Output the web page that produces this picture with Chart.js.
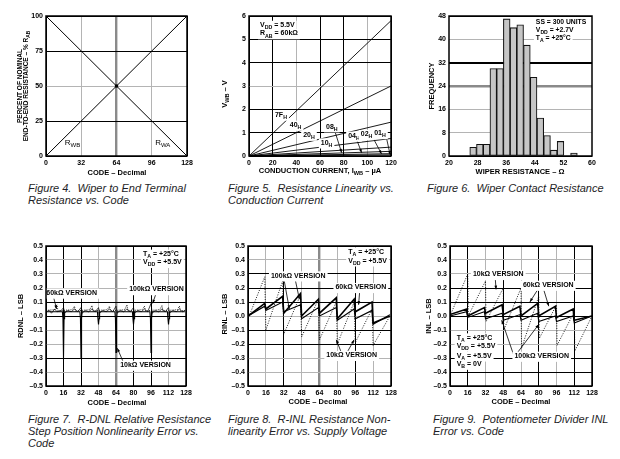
<!DOCTYPE html>
<html><head><meta charset="utf-8">
<script src="https://cdn.jsdelivr.net/npm/chart.js@4.4.1/dist/chart.umd.min.js"></script>
<style>
html,body{margin:0;padding:0;background:#fff}
body{width:620px;height:459px;position:relative;overflow:hidden;font-family:"Liberation Sans",Arial,Helvetica,sans-serif}
canvas{position:absolute}
.cap{position:absolute;font-style:italic;font-size:11px;line-height:12px;color:#1e1e26;white-space:nowrap}
</style></head><body>
<canvas id="c4" width="205" height="180" style="left:0;top:0"></canvas>
<canvas id="c5" width="205" height="180" style="left:205px;top:0"></canvas>
<canvas id="c6" width="210" height="180" style="left:410px;top:0"></canvas>
<canvas id="c7" width="205" height="180" style="left:0;top:230px"></canvas>
<canvas id="c8" width="205" height="180" style="left:205px;top:230px"></canvas>
<canvas id="c9" width="210" height="180" style="left:410px;top:230px"></canvas>
<div class="cap" style="left:28px;top:182px">Figure 4.&nbsp; Wiper to End Terminal<br>Resistance vs. Code</div>
<div class="cap" style="left:228px;top:182px">Figure 5.&nbsp; Resistance Linearity vs.<br>Conduction Current</div>
<div class="cap" style="left:427px;top:182px">Figure 6.&nbsp; Wiper Contact Resistance</div>
<div class="cap" style="left:28px;top:413px">Figure 7.&nbsp; R-DNL Relative Resistance<br>Step Position Nonlinearity Error vs.<br>Code</div>
<div class="cap" style="left:228px;top:413px">Figure 8.&nbsp; R-INL Resistance Non-<br>linearity Error vs. Supply Voltage</div>
<div class="cap" style="left:433px;top:413px">Figure 9.&nbsp; Potentiometer Divider INL<br>Error vs. Code</div>
<script>
// ---------------- DATA ----------------
// Figure 4
const fig4Code = [0, 128];
const fig4RWB = [0, 100];
const fig4RWA = [100, 0];
// Figure 5
const fig5Current = [0, 120];
const fig5Codes = ['7F', '40', '20', '10', '08', '04', '02', '01'];
const fig5VoltAt120 = [5.8, 3.0, 1.45, 0.75, 0.38, 0.2, 0.1, 0.05];
// Figure 6
const fig6Resistance = [26.75, 28.63, 30.51, 32.39, 34.27, 36.15, 38.03, 39.91, 41.79, 43.67, 45.55, 47.43, 49.31, 51.19, 53.07, 54.95];
const fig6Frequency = [3, 4, 4, 30, 30, 47, 44, 45, 38, 27, 13, 7, 2, 5, 0, 1];
// Figure 7 (code, LSB)
const fig7R10k = [[0,0.03],[15,0.03],[15.5,-0.02],[16,-0.3],[16.5,-0.02],[17,0.03],[31,0.03],[31.5,-0.02],[32,-0.3],[32.5,-0.02],[33,0.03],[47,0.03],[47.5,-0.02],[48,-0.06],[48.5,-0.02],[49,0.03],[63,0.03],[63.5,-0.02],[64,-0.26],[64.5,-0.02],[65,0.03],[79,0.03],[79.5,-0.02],[80,-0.06],[80.5,-0.02],[81,0.03],[95,0.03],[95.5,-0.02],[96,-0.26],[96.5,-0.02],[97,0.03],[111,0.03],[111.5,-0.02],[112,-0.06],[112.5,-0.02],[113,0.03],[127,0.03]];
const fig7R60k = [[0,0.04],[8,0.045],[10,0.08],[11,0.035],[16,0.04],[24,0.045],[26,0.07],[27,0.035],[32,0.04],[40,0.045],[42,0.075],[43,0.035],[48,0.04],[56,0.045],[58,0.07],[59,0.035],[64,0.04],[72,0.045],[74,0.08],[75,0.035],[80,0.04],[88,0.045],[90,0.07],[91,0.035],[96,0.04],[104,0.045],[106,0.075],[107,0.035],[112,0.04],[120,0.045],[122,0.07],[123,0.035],[127,0.04]];
const fig7R100k = [[0,0.03],[3,0.04],[5,0.02],[8,0.05],[10,0.03],[14,0.04],[16,0.06],[17,0.02],[20,0.04],[23,0.03],[26,0.05],[29,0.03],[32,0.06],[33,0.02],[36,0.04],[39,0.03],[42,0.05],[45,0.03],[48,0.06],[49,0.02],[52,0.04],[55,0.03],[58,0.05],[61,0.03],[64,0.07],[65,0.02],[68,0.04],[71,0.03],[74,0.05],[77,0.03],[80,0.06],[81,0.02],[84,0.04],[87,0.03],[90,0.05],[93,0.03],[96,0.09],[97,0.02],[100,0.04],[103,0.03],[106,0.05],[109,0.03],[112,0.06],[113,0.02],[116,0.04],[119,0.03],[122,0.05],[125,0.03],[127,0.04]];
// Figure 8
const fig8R10k = [[0,-0.02],[15,0.28],[16,-0.1],[31,0.25],[32,-0.13],[47,0.15],[48,-0.15],[63,0.12],[64,-0.17],[79,0.1],[80,-0.2],[95,0.1],[96,-0.19],[111,0.05],[112,-0.21],[127,0.0]];
const fig8R60k = [[0,0.0],[15,0.09],[16,0.05],[31,0.14],[32,0.02],[47,0.16],[48,0.0],[63,0.12],[64,0.02],[79,0.13],[80,-0.02],[95,0.12],[96,0.03],[111,0.1],[112,-0.05],[127,0.0]];
const fig8R100k = [[0,0.0],[15,0.07],[16,0.04],[31,0.1],[32,0.03],[47,0.08],[48,-0.02],[63,0.06],[64,0.0],[79,0.06],[80,-0.03],[95,0.05],[96,-0.02],[111,0.04],[112,-0.06],[127,0.01]];
// Figure 9
const fig9R10k = [[0,0.0],[16,0.3],[16.5,0.0],[32,0.25],[32.5,-0.04],[48,0.2],[48.5,-0.1],[64,0.2],[64.5,-0.23],[80,0.14],[80.5,-0.16],[96,0.08],[96.5,-0.21],[112,0.03],[112.5,-0.25],[128,0.0]];
const fig9R60k = [[0,0.01],[15,0.05],[16,0.0],[31,0.06],[32,0.02],[47,0.08],[48,0.01],[63,0.07],[64,0.0],[79,0.09],[80,0.0],[95,0.07],[96,-0.01],[111,0.05],[112,-0.03],[128,0.0]];
const fig9R100k = [[0,0.0],[15,0.03],[16,-0.01],[31,0.03],[32,-0.02],[47,0.02],[48,-0.03],[63,0.01],[64,-0.03],[79,0.02],[80,-0.04],[95,0.0],[96,-0.04],[111,0.0],[112,-0.05],[128,0.0]];

// ---------------- HELPERS ----------------
const FAM = '"Liberation Sans", Arial, Helvetica, sans-serif';
Chart.defaults.font.family = FAM;
Chart.defaults.color = '#000';
Chart.defaults.animation = false;

const STY = {k:['#000',1], g:['#b4b4b4',1], G:['#8a8a8a',2.4], K:['#000',2], n:['rgba(0,0,0,0)',0]};
function grid(str){
  return {color:c=>STY[str[c.index]||'n'][0], lineWidth:c=>STY[str[c.index]||'n'][1], drawTicks:false};
}
function lin(min,max,step,gridStr,fmt,fit,axis){
  return {type:'linear',min,max,
    ticks:{stepSize:step,autoSkip:false,maxRotation:0,padding:3,font:{size:7,weight:'bold'},color:'#000',callback:fmt||(v=>String(v))},
    grid:grid(gridStr), border:{display:false},
    afterFit: axis==='x' ? (s=>{s.height=fit;}) : (s=>{s.width=fit;})};
}
const fmt1 = v => (v < -1e-9 ? '\u2013' + Math.abs(v).toFixed(1) : Math.abs(v).toFixed(1));
const pts = arr => arr.map(p=>({x:p[0],y:p[1]}));
const pairs = (xs,ys) => xs.map((x,i)=>({x,y:ys[i]}));

function richParts(s){
  const out=[]; const re=/_\{([^}]*)\}/g; let last=0,m;
  while((m=re.exec(s))){ if(m.index>last) out.push({t:s.slice(last,m.index),sub:false}); out.push({t:m[1],sub:true}); last=re.lastIndex; }
  if(last<s.length) out.push({t:s.slice(last),sub:false});
  return out;
}
function setF(ctx,size,weight){ ctx.font = weight+' '+size+'px '+FAM; }
function drawRich(ctx,s,x,y,size,align,weight,bg){
  const parts=richParts(s); let w=0;
  parts.forEach(p=>{ setF(ctx,p.sub?size*0.75:size,weight); w+=ctx.measureText(p.t).width; });
  let sx = align==='center' ? x-w/2 : align==='right' ? x-w : x;
  if(bg){ ctx.fillStyle='#fff'; ctx.fillRect(sx-2,y-size*0.62,w+4,size*1.45); }
  ctx.fillStyle='#000'; ctx.textBaseline='middle'; ctx.textAlign='left';
  parts.forEach(p=>{ const fs=p.sub?size*0.75:size; setF(ctx,fs,weight); ctx.fillText(p.t,sx,y+(p.sub?size*0.38:0)); sx+=ctx.measureText(p.t).width; });
}
const deco = {
  id:'deco',
  afterDatasetsDraw(chart){
    const o=chart.options.plugins.deco||{}; const ctx=chart.ctx;
    const xs=chart.scales.x, ys=chart.scales.y;
    const X=v=>xs.getPixelForValue(v), Y=v=>ys.getPixelForValue(v);
    ctx.save();
    if(o.dot){ ctx.fillStyle='#000'; ctx.beginPath(); ctx.arc(X(o.dot[0]),Y(o.dot[1]),1.8,0,Math.PI*2); ctx.fill(); }
    (o.leaders||[]).forEach(l=>{
      const x1=X(l[0]),y1=Y(l[1]),x2=X(l[2]),y2=Y(l[3]);
      ctx.strokeStyle='#000'; ctx.lineWidth=0.8; ctx.beginPath(); ctx.moveTo(x1,y1); ctx.lineTo(x2,y2); ctx.stroke();
      const a=Math.atan2(y2-y1,x2-x1), L=4;
      ctx.fillStyle='#000'; ctx.beginPath(); ctx.moveTo(x2,y2);
      ctx.lineTo(x2-L*Math.cos(a-0.35),y2-L*Math.sin(a-0.35));
      ctx.lineTo(x2-L*Math.cos(a+0.35),y2-L*Math.sin(a+0.35)); ctx.closePath(); ctx.fill();
    });
    (o.labels||[]).forEach(l=>drawRich(ctx,l.t,X(l.x),Y(l.y),l.size||7,l.align||'center',l.w||'bold',l.bg!==false));
    ctx.restore();
  },
  afterDraw(chart){
    const o=chart.options.plugins.deco||{}; const ctx=chart.ctx; const a=chart.chartArea;
    ctx.save();
    ctx.strokeStyle='#000'; ctx.lineWidth=1.5; ctx.strokeRect(a.left,a.top,a.right-a.left,a.bottom-a.top);
    if(o.xTitle) drawRich(ctx,o.xTitle.t,o.xTitle.x,o.xTitle.y,o.xTitle.size||7.5,'center','bold',false);
    (o.yTitle||[]).forEach(t=>{
      ctx.save(); ctx.translate(t.x,t.y); ctx.rotate(-Math.PI/2);
      drawRich(ctx,t.t,0,0,t.size||7.5,'center','bold',false); ctx.restore();
    });
    ctx.restore();
  }
};
Chart.register(deco);
function baseOpts(padRight,scales,decoCfg){
  return {responsive:false,maintainAspectRatio:false,animation:false,
    layout:{padding:{top:16,right:padRight,left:0,bottom:0}},
    scales, elements:{point:{radius:0},line:{tension:0}},
    plugins:{legend:{display:false},tooltip:{enabled:false},deco:decoCfg}};
}
const ln = (data,w,dash) => ({data,borderColor:'#000',borderWidth:w,borderDash:dash||[],pointRadius:0,fill:false});

// ---------------- FIGURE 4 ----------------
new Chart(document.getElementById('c4'),{type:'line',
  data:{datasets:[ln(pairs(fig4Code,fig4RWB),1), ln(pairs(fig4Code,fig4RWA),1)]},
  options:baseOpts(18,{x:lin(0,128,32,'kgGgk',null,24,'x'), y:lin(0,100,25,'kkgkk',null,46,'y')},
    {xTitle:{t:'CODE \u2013 Decimal',x:117,y:172.5},
     yTitle:[{t:'PERCENT OF NOMINAL',x:20.5,y:86,size:6.5},{t:'END-TO-END RESISTANCE \u2013 % R_{AB}',x:26.5,y:86,size:6.5}],
     labels:[{t:'R_{WB}',x:24,y:9.5,bg:false,size:8,w:'normal'},{t:'R_{WA}',x:106,y:9.5,bg:false,size:8,w:'normal'}],
     dot:[64,50]})});

// ---------------- FIGURE 5 ----------------
new Chart(document.getElementById('c5'),{type:'line',
  data:{datasets:fig5VoltAt120.map(v=>ln(pairs(fig5Current,[0,v]),0.9))},
  options:baseOpts(19,{x:lin(0,120,20,'kkgkkgk',null,24,'x'), y:lin(0,6,1,'kkkgkkk',null,44,'y')},
    {xTitle:{t:'CONDUCTION CURRENT, I_{WB} \u2013 \u00b5A',x:115,y:170.5},
     yTitle:[{t:'V_{WB} \u2013 V',x:20,y:94}],
     leaders:[[72.7,1.04,78.3,0.14],[91,0.7,95.2,0.14],[105.6,0.7,112,0.09],[116.4,0.72,119.3,0.05]],
     labels:[{t:'V_{DD} = 5.5V',x:9.3,y:5.61,align:'left'},{t:'R_{AB} = 60k\u03a9',x:9.3,y:5.25,align:'left'},
       {t:fig5Codes[0]+'_{H}',x:27,y:1.76},{t:fig5Codes[1]+'_{H}',x:39.4,y:1.33},{t:fig5Codes[2]+'_{H}',x:50.7,y:0.9},
       {t:fig5Codes[3]+'_{H}',x:65.6,y:0.57},{t:fig5Codes[4]+'_{H}',x:70,y:1.26},{t:fig5Codes[5]+'_{H}',x:88.7,y:0.86},
       {t:fig5Codes[6]+'_{H}',x:99.4,y:0.93},{t:fig5Codes[7]+'_{H}',x:110.7,y:0.97}]})});

// ---------------- FIGURE 6 ----------------
const fig6Data = fig6Resistance.map((x,i)=>({x,y:fig6Frequency[i]})).filter(d=>d.y>0);
new Chart(document.getElementById('c6'),{type:'bar',
  data:{datasets:[{data:fig6Data,backgroundColor:'#c6c6c6',borderColor:'#111',borderWidth:1.1,barThickness:6.7,borderSkipped:false}]},
  options:baseOpts(28,{x:Object.assign(lin(20,60,8,'nnnnnn',null,24,'x'),{offset:false}), y:lin(0,48,8,'kggGKgk',null,39,'y')},
    {xTitle:{t:'WIPER RESISTANCE \u2013 \u03a9',x:110,y:172},
     yTitle:[{t:'FREQUENCY',x:22,y:86}],
     labels:[{t:'SS = 300 UNITS',x:44.3,y:45.9,align:'left',size:6.8},{t:'V_{DD} = +2.7V',x:44.3,y:43.2,align:'left',size:6.8},{t:'T_{A} = +25\u00b0C',x:44.3,y:40.4,align:'left',size:6.8}]})});

// ---------------- FIGURE 7 ----------------
new Chart(document.getElementById('c7'),{type:'line',
  data:{datasets:[ln(pts(fig7R60k),0.9,[1,1.2]), ln(pts(fig7R100k),0.7), ln(pts(fig7R10k),1.1)]},
  options:baseOpts(19,{x:lin(0,128,16,'kkkgGkkgk',null,24,'x'), y:lin(-0.5,0.5,0.1,'kgkggkkgggk',fmt1,46,'y')},
    {xTitle:{t:'CODE \u2013 Decimal',x:117,y:172.5},
     yTitle:[{t:'RDNL \u2013 LSB',x:21,y:86}],
     leaders:[[6.7,0.14,9.7,0.05],[101,0.17,97.5,0.09],[70.7,-0.33,65.2,-0.23]],
     labels:[{t:'T_{A} = +25\u00b0C',x:88.7,y:0.443,align:'left'},{t:'V_{DD} = +5.5V',x:88.7,y:0.384,align:'left'},
       {t:'60k\u03a9 VERSION',x:23.5,y:0.165},{t:'100k\u03a9 VERSION',x:101,y:0.19},{t:'10k\u03a9 VERSION',x:91,y:-0.35}]})});

// ---------------- FIGURE 8 ----------------
new Chart(document.getElementById('c8'),{type:'line',
  data:{datasets:[ln(pts(fig8R10k),0.9,[1,1.5]), ln(pts(fig8R100k),1.1), ln(pts(fig8R60k),1.6)]},
  options:baseOpts(19,{x:lin(0,128,16,'kgkgGgkgk',null,24,'x'), y:lin(-0.5,0.5,0.1,'kggkkgkkkgk',fmt1,43,'y')},
    {xTitle:{t:'CODE \u2013 Decimal',x:113,y:171.5},
     yTitle:[{t:'RINL \u2013 LSB',x:20,y:84}],
     leaders:[[32,0.27,37,0.05],[42,0.27,46,0.12],[100,0.18,99,0.08],[84,-0.27,79,-0.17],[88,-0.27,95,-0.17]],
     labels:[{t:'T_{A} = +25\u00b0C',x:89.7,y:0.46,align:'left'},{t:'V_{DD} = +5.5V',x:89.7,y:0.395,align:'left'},
       {t:'100k\u03a9 VERSION',x:45,y:0.288},{t:'60k\u03a9 VERSION',x:101,y:0.205},{t:'10k\u03a9 VERSION',x:92.8,y:-0.28}]})});

// ---------------- FIGURE 9 ----------------
new Chart(document.getElementById('c9'),{type:'line',
  data:{datasets:[ln(pts(fig9R10k),0.9,[1,1.5]), ln(pts(fig9R100k),1.1), ln(pts(fig9R60k),1.6)]},
  options:baseOpts(28,{x:lin(0,128,16,'kkgkgkgkk',null,24,'x'), y:lin(-0.5,0.5,0.1,'kkkggkkkggk',fmt1,40,'y')},
    {xTitle:{t:'CODE \u2013 Decimal',x:111,y:172},
     yTitle:[{t:'INL \u2013 LSB',x:19,y:86}],
     leaders:[[40.8,0.27,41.5,0.19],[84,0.2,89,0.07],[80,0.2,72,0.1],[57,-0.27,46.6,-0.03],[60,-0.27,80,-0.06]],
     labels:[{t:'10k\u03a9 VERSION',x:43.5,y:0.298},{t:'60k\u03a9 VERSION',x:88.6,y:0.221},
       {t:'T_{A} = +25\u00b0C',x:6,y:-0.155,align:'left'},{t:'V_{DD} = +5.5V',x:6,y:-0.214,align:'left'},
       {t:'V_{A} = +5.5V',x:6,y:-0.284,align:'left'},{t:'V_{B} = 0V',x:6,y:-0.343,align:'left'},
       {t:'100k\u03a9 VERSION',x:82.7,y:-0.286}]})});
</script>
</body></html>
